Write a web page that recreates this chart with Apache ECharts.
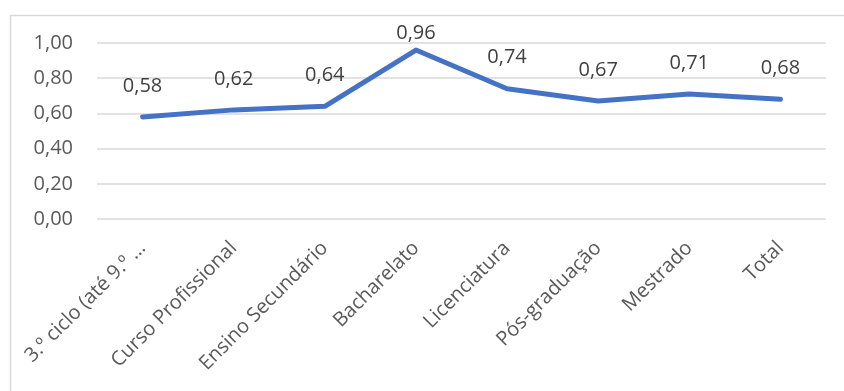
<!DOCTYPE html>
<html>
<head>
<meta charset="utf-8">
<script src="https://cdn.jsdelivr.net/npm/echarts@6/dist/echarts.min.js"></script>
<style>
  html, body { margin: 0; padding: 0; background: #fff; }
  #chart { width: 844px; height: 391px; }
</style>
</head>
<body>
<div id="chart"></div>
<script>
// Education levels and their average scores
const categories = [
  '3.º ciclo (até 9.º …',
  'Curso Profissional',
  'Ensino Secundário',
  'Bacharelato',
  'Licenciatura',
  'Pós-graduação',
  'Mestrado',
  'Total'
];
const values = [0.58, 0.62, 0.64, 0.96, 0.74, 0.67, 0.71, 0.68];

const yMin = 0;
const yMax = 1;
const yStep = 0.2;

const FONT = '"Open Sans", "Noto Sans", sans-serif';
const fmt = v => v.toFixed(2).replace('.', ',');

const chart = echarts.init(document.getElementById('chart'), null, { renderer: 'canvas' });

chart.setOption({
  animation: false,
  backgroundColor: '#ffffff',
  graphic: [{
    type: 'rect',
    left: 8, top: 13,
    shape: { width: 900, height: 500 },
    style: { fill: 'none', stroke: '#d9d9d9', lineWidth: 1.5 },
    silent: true
  }],
  grid: { left: 97, right: 18, top: 43, height: 176, containLabel: false },
  xAxis: {
    type: 'category',
    data: categories,
    boundaryGap: true,
    axisLine: { show: false },
    axisTick: { show: false },
    axisLabel: {
      rotate: 45,
      interval: 0,
      margin: 26,
      color: '#595959',
      fontFamily: FONT,
      fontSize: 20
    }
  },
  yAxis: {
    type: 'value',
    min: yMin,
    max: yMax,
    interval: yStep,
    axisLine: { show: false },
    axisTick: { show: false },
    splitLine: { lineStyle: { color: '#d9d9d9', width: 1.5 } },
    axisLabel: {
      margin: 24,
      color: '#595959',
      fontFamily: FONT,
      fontSize: 20,
      formatter: v => fmt(v)
    }
  },
  series: [{
    type: 'line',
    data: values,
    showSymbol: true,
    symbol: 'circle',
    symbolSize: 2,
    itemStyle: { color: '#4472c4' },
    lineStyle: { color: '#4472c4', width: 5, cap: 'round', join: 'round' },
    label: {
      show: true,
      position: 'top',
      distance: 20,
      color: '#404040',
      fontFamily: FONT,
      fontSize: 20,
      formatter: p => fmt(p.value)
    },
    // keep value labels inside the chart frame
    labelLayout: function (p) {
      const r = p.labelRect;
      const minTop = 23;
      return r.y < minTop ? { dy: minTop - r.y } : {};
    }
  }]
});
</script>
</body>
</html>
